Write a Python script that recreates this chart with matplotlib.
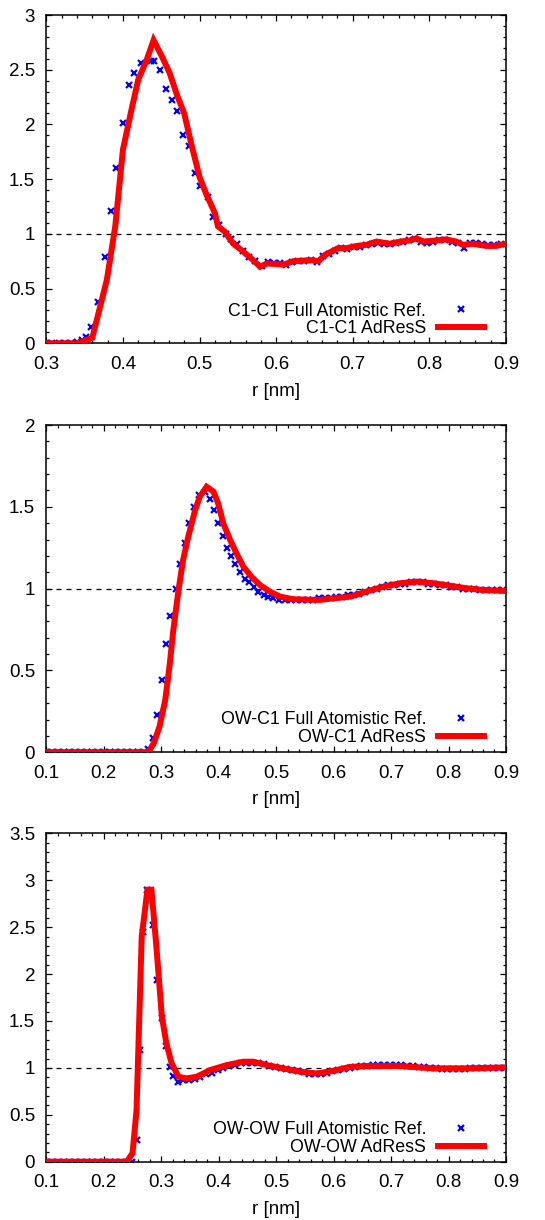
import numpy as np
import matplotlib.pyplot as plt

plt.rcParams["font.family"] = ["Liberation Sans", "DejaVu Sans"]
plt.rcParams["font.size"] = 13.5

# ---- C1-C1 ----
c1c1_ref_r = [0.300, 0.308, 0.316, 0.324, 0.332, 0.340, 0.346, 0.352, 0.358, 0.367,
              0.376, 0.384, 0.391, 0.400, 0.408, 0.415, 0.423, 0.437, 0.441, 0.448,
              0.456, 0.464, 0.471, 0.479, 0.486, 0.494, 0.501, 0.511, 0.518, 0.526,
              0.534, 0.541, 0.549, 0.557, 0.565, 0.573, 0.581, 0.589, 0.597, 0.605,
              0.613, 0.621, 0.629, 0.637, 0.645, 0.653, 0.661, 0.669, 0.677, 0.685,
              0.693, 0.701, 0.709, 0.717, 0.725, 0.733, 0.741, 0.749, 0.757, 0.765,
              0.773, 0.781, 0.789, 0.797, 0.805, 0.813, 0.821, 0.829, 0.837, 0.845,
              0.853, 0.861, 0.869, 0.877, 0.885, 0.893]
c1c1_ref_g = [0.0, 0.0, 0.0, 0.0, 0.0, 0.01, 0.03, 0.06, 0.15, 0.38,
              0.79, 1.21, 1.60, 2.01, 2.36, 2.47, 2.56, 2.58, 2.58, 2.50,
              2.32, 2.22, 2.12, 1.90, 1.80, 1.56, 1.44, 1.34, 1.15, 1.08,
              1.00, 0.95, 0.91, 0.84, 0.79, 0.75, 0.71, 0.74, 0.73, 0.73,
              0.72, 0.74, 0.75, 0.75, 0.76, 0.74, 0.80, 0.82, 0.84, 0.87,
              0.86, 0.88, 0.88, 0.90, 0.91, 0.92, 0.91, 0.91, 0.92, 0.93,
              0.94, 0.95, 0.93, 0.92, 0.93, 0.94, 0.94, 0.93, 0.92, 0.87,
              0.92, 0.92, 0.91, 0.90, 0.90, 0.91]
c1c1_ad_r = [0.300, 0.340, 0.360, 0.379, 0.390, 0.400, 0.411, 0.420, 0.431, 0.440,
             0.451, 0.461, 0.470, 0.480, 0.490, 0.500, 0.509, 0.520, 0.524, 0.533,
             0.544, 0.555, 0.570, 0.579, 0.588, 0.610, 0.622, 0.648, 0.655, 0.664,
             0.681, 0.692, 0.705, 0.718, 0.731, 0.748, 0.762, 0.775, 0.783, 0.792,
             0.810, 0.822, 0.835, 0.844, 0.857, 0.874, 0.887, 0.900]
c1c1_ad_g = [0.0, 0.0, 0.05, 0.58, 1.07, 1.77, 2.13, 2.41, 2.59, 2.77,
             2.62, 2.47, 2.28, 2.10, 1.80, 1.52, 1.36, 1.19, 1.07, 1.02,
             0.91, 0.85, 0.76, 0.70, 0.73, 0.72, 0.75, 0.76, 0.75, 0.81,
             0.87, 0.87, 0.89, 0.90, 0.93, 0.91, 0.93, 0.94, 0.96, 0.93,
             0.94, 0.95, 0.93, 0.90, 0.91, 0.89, 0.89, 0.91]

# ---- OW-C1 ----
owc1_ref_r = [0.10, 0.11, 0.12, 0.13, 0.14, 0.15, 0.16, 0.17, 0.18, 0.19,
              0.20, 0.21, 0.22, 0.23, 0.24, 0.25, 0.26, 0.27,
              0.2775, 0.285, 0.293, 0.301, 0.308, 0.316, 0.325, 0.333, 0.341, 0.349,
              0.357, 0.366, 0.376, 0.384, 0.391, 0.399, 0.407, 0.415, 0.422, 0.429,
              0.437, 0.446, 0.453, 0.461, 0.469, 0.478, 0.486, 0.495, 0.505, 0.515,
              0.525, 0.535, 0.545, 0.555, 0.565, 0.575, 0.585, 0.595, 0.605, 0.615,
              0.625, 0.635, 0.645, 0.655, 0.665, 0.675, 0.685, 0.695, 0.705, 0.715,
              0.725, 0.735, 0.745, 0.755, 0.765, 0.775, 0.785, 0.795, 0.805, 0.815,
              0.825, 0.835, 0.845, 0.855, 0.865, 0.875, 0.885, 0.895]
owc1_ref_g = [0.0, 0.0, 0.0, 0.0, 0.0, 0.0, 0.0, 0.0, 0.0, 0.0,
              0.0, 0.0, 0.0, 0.0, 0.0, 0.0, 0.0, 0.0,
              0.02, 0.09, 0.23, 0.44, 0.66, 0.83, 1.00, 1.15, 1.28, 1.40,
              1.50, 1.57, 1.59, 1.55, 1.48, 1.40, 1.32, 1.25, 1.20, 1.15,
              1.10, 1.06, 1.04, 1.01, 0.98, 0.96, 0.95, 0.94, 0.93, 0.93,
              0.93, 0.93, 0.93, 0.93, 0.93, 0.94, 0.94, 0.94, 0.95, 0.95,
              0.96, 0.96, 0.97, 0.98, 0.99, 1.00, 1.01, 1.02, 1.02, 1.03,
              1.03, 1.04, 1.04, 1.04, 1.03, 1.03, 1.02, 1.02, 1.01, 1.01,
              1.00, 1.00, 1.00, 0.99, 0.99, 0.99, 0.99, 0.99]
owc1_ad_r = [0.100, 0.2775, 0.287, 0.297, 0.307, 0.315, 0.321, 0.330, 0.338, 0.347,
             0.359, 0.367, 0.379, 0.391, 0.399, 0.408, 0.420, 0.431, 0.443, 0.457,
             0.472, 0.489, 0.507, 0.530, 0.576, 0.599, 0.629, 0.657, 0.686, 0.716,
             0.745, 0.774, 0.802, 0.832, 0.860, 0.900]
owc1_ad_g = [0.0, 0.0, 0.055, 0.157, 0.32, 0.544, 0.747, 0.99, 1.175, 1.318,
             1.48, 1.562, 1.623, 1.593, 1.521, 1.399, 1.297, 1.216, 1.134, 1.073,
             1.022, 0.982, 0.951, 0.935, 0.931, 0.941, 0.951, 0.982, 1.012, 1.033,
             1.043, 1.033, 1.018, 1.002, 0.992, 0.986]

# ---- OW-OW ----
owow_ref_r = [0.10, 0.11, 0.12, 0.13, 0.14, 0.15, 0.16, 0.17, 0.18, 0.19,
              0.20, 0.21, 0.22, 0.23, 0.24,
              0.2485, 0.257, 0.263, 0.269, 0.275, 0.286, 0.292, 0.301, 0.308, 0.315,
              0.321, 0.330, 0.338, 0.348, 0.358, 0.368, 0.378, 0.388, 0.398, 0.408,
              0.418, 0.428, 0.438, 0.448, 0.458, 0.468, 0.478, 0.488, 0.498, 0.508,
              0.518, 0.528, 0.538, 0.548, 0.558, 0.568, 0.578, 0.588, 0.598, 0.608,
              0.618, 0.628, 0.638, 0.648, 0.658, 0.668, 0.678, 0.688, 0.698, 0.708,
              0.718, 0.728, 0.738, 0.748, 0.758, 0.768, 0.778, 0.788, 0.798, 0.808,
              0.818, 0.828, 0.838, 0.848, 0.858, 0.868, 0.878, 0.888, 0.898]
owow_ref_g = [0.0, 0.0, 0.0, 0.0, 0.0, 0.0, 0.0, 0.0, 0.0, 0.0,
              0.0, 0.0, 0.0, 0.0, 0.0,
              0.0, 0.23, 1.19, 2.45, 2.90, 2.52, 1.94, 1.53, 1.23, 1.01,
              0.91, 0.85, 0.87, 0.87, 0.88, 0.90, 0.93, 0.95, 0.98, 1.00,
              1.02, 1.03, 1.05, 1.05, 1.05, 1.05, 1.04, 1.02, 1.01, 1.00,
              0.99, 0.98, 0.97, 0.96, 0.94, 0.94, 0.94, 0.95, 0.97, 0.98,
              0.99, 1.00, 1.01, 1.02, 1.02, 1.03, 1.03, 1.03, 1.03, 1.03,
              1.03, 1.02, 1.02, 1.01, 1.01, 1.00, 1.00, 0.99, 0.99, 0.99,
              0.99, 0.99, 1.00, 1.00, 1.00, 1.00, 1.00, 1.00, 1.00]
owow_ad_r = [0.100, 0.240, 0.250, 0.257, 0.266, 0.276, 0.283, 0.292, 0.301, 0.309,
             0.318, 0.330, 0.344, 0.362, 0.385, 0.414, 0.443, 0.460, 0.484, 0.512,
             0.541, 0.571, 0.600, 0.628, 0.657, 0.716, 0.745, 0.774, 0.832, 0.900]
owow_ad_g = [0.0, 0.0, 0.09, 0.55, 2.40, 2.90, 2.90, 2.26, 1.55, 1.26,
             1.05, 0.906, 0.888, 0.906, 0.977, 1.03, 1.066, 1.066, 1.03, 0.995,
             0.96, 0.94, 0.97, 1.01, 1.02, 1.02, 1.006, 0.995, 0.995, 1.005]

panels = [
    ("C1-C1", c1c1_ref_r, c1c1_ref_g, c1c1_ad_r, c1c1_ad_g, (0.3, 0.9), 3.0),
    ("OW-C1", owc1_ref_r, owc1_ref_g, owc1_ad_r, owc1_ad_g, (0.1, 0.9), 2.0),
    ("OW-OW", owow_ref_r, owow_ref_g, owow_ad_r, owow_ad_g, (0.1, 0.9), 3.5),
]
# axes boxes in figure fraction [left, bottom, width, height]
boxes = [
    [0.085, 0.7186, 0.8434, 0.2691],
    [0.085, 0.3834, 0.8434, 0.2682],
    [0.085, 0.0478, 0.8434, 0.2691],
]

fig = plt.figure(figsize=(5.45, 12.2), dpi=100)

for (name, rr, gr, ra, ga, xlim, ymax), box in zip(panels, boxes):
    ax = fig.add_axes(box)
    ax.axhline(1.0, color="black", lw=0.9, ls=(0, (4, 4)), zorder=1)
    ax.plot(rr, gr, ls="none", marker="x", ms=5, mew=1.6, color="#0000ff",
            label=f"{name} Full Atomistic Ref.", zorder=2)
    ax.plot(ra, ga, color="#ff0000", lw=4.3, solid_joinstyle="miter",
            label=f"{name} AdResS", zorder=3)
    ax.set_xlim(*xlim)
    ax.set_ylim(0, ymax)
    xt = np.arange(xlim[0], xlim[1] + 0.001, 0.1)
    yt = np.arange(0, ymax + 0.001, 0.5)
    ax.set_xticks(xt)
    ax.set_xticklabels([f"{t:g}" for t in xt])
    ax.set_yticks(yt)
    ax.set_yticklabels([f"{t:g}" for t in yt])
    ax.xaxis.set_minor_locator(plt.MultipleLocator(0.02))
    ax.yaxis.set_minor_locator(plt.MultipleLocator(0.1))
    ax.tick_params(which="both", direction="in", top=True, right=True, width=0.9)
    ax.tick_params(which="major", length=4.5)
    ax.tick_params(axis="x", which="major", pad=9)
    ax.tick_params(axis="y", which="major", pad=8)
    ax.tick_params(which="minor", length=2.5)
    for s in ax.spines.values():
        s.set_linewidth(1.1)
    ax.set_xlabel("r [nm]", labelpad=7)
    ax.legend(loc="lower right", bbox_to_anchor=(0.952, 0.018), frameon=False,
              markerfirst=False, handlelength=2.6, handletextpad=0.65,
              labelspacing=0.05, borderpad=0, borderaxespad=0, fontsize=12.8)

plt.savefig("out.png", dpi=100)
